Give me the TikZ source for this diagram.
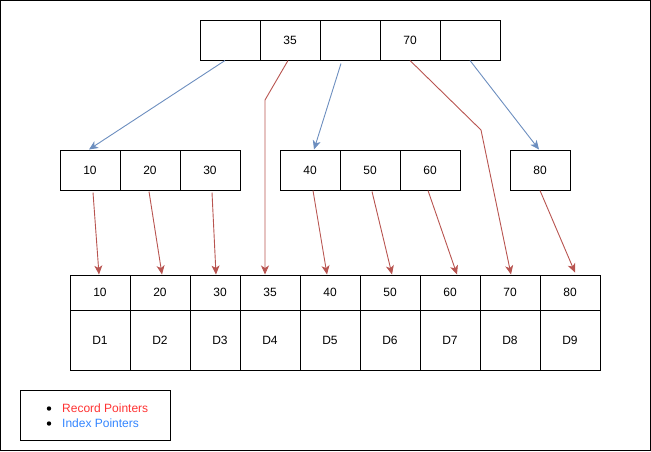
\documentclass[tikz,border=0pt]{standalone}
\usepackage{fontspec}
\setmainfont{Liberation Sans}
\usetikzlibrary{arrows.meta,calc}
\definecolor{recred}{HTML}{B85450}
\definecolor{idxblue}{HTML}{6C8EBF}
\definecolor{legred}{HTML}{FF3333}
\definecolor{legblue}{HTML}{3385FF}
\tikzset{
  cell/.style={draw=black,line width=1pt,fill=white,minimum width=60pt,minimum height=40pt,inner sep=0pt,font=\fontsize{12}{14}\selectfont},
  keycell/.style={cell,minimum height=35pt},
  datacell/.style={cell,minimum height=60pt},
  recptr/.style={draw=recred,line width=0.9pt,-{Stealth[length=9pt,width=8pt,inset=2.5pt]}},
  idxptr/.style={draw=idxblue,line width=0.9pt,-{Stealth[length=9pt,width=8pt,inset=2.5pt]}},
  legtext/.style={anchor=west,inner sep=0pt,font=\fontsize{12}{14}\selectfont}
}
\begin{document}
\begin{tikzpicture}[x=1pt,y=-1pt]
\useasboundingbox (0,0) rectangle (651,451);
\draw[line width=1.2pt] (0.6,0.6) rectangle (650.4,450.4);
% top node
\node[cell] (t1) at (230,40) {};
\node[cell] (t2) at (290,40) {35};
\node[cell] (t3) at (350,40) {};
\node[cell] (t4) at (410,40) {70};
\node[cell] (t5) at (470,40) {};
% middle nodes
\node[cell] (m10) at (90,170) {10};
\node[cell] (m20) at (150,170) {20};
\node[cell] (m30) at (210,170) {30};
\node[cell] (m40) at (310,170) {40};
\node[cell] (m50) at (370,170) {50};
\node[cell] (m60) at (430,170) {60};
\node[cell] (m80) at (540,170) {80};
% bottom keys
\node[keycell] (b10) at (100,292.5) {10};
\node[keycell] (b20) at (160,292.5) {20};
\node[keycell] (b30) at (220,292.5) {30};
\node[keycell] (b35) at (270,292.5) {35};
\node[keycell] (b40) at (330,292.5) {40};
\node[keycell] (b50) at (390,292.5) {50};
\node[keycell] (b60) at (450,292.5) {60};
\node[keycell] (b70) at (510,292.5) {70};
\node[keycell] (b80) at (570,292.5) {80};
% data
\node[datacell] (d1) at (100,340) {D1};
\node[datacell] (d2) at (160,340) {D2};
\node[datacell] (d3) at (220,340) {D3};
\node[datacell] (d4) at (270,340) {D4};
\node[datacell] (d5) at (330,340) {D5};
\node[datacell] (d6) at (390,340) {D6};
\node[datacell] (d7) at (450,340) {D7};
\node[datacell] (d8) at (510,340) {D8};
\node[datacell] (d9) at (570,340) {D9};
% bend points
\coordinate (k35) at (265,100);
\coordinate (k70) at (481,130);
% index pointers
\draw[idxptr] ($(t1.south)+(-5,0)$) -- ($(m10.north)+(-1,0)$);
\draw[idxptr] ($(t3.south)+(-9,3)$) -- ($(m40.north)+(4,0)$);
\draw[idxptr] (t5.south) -- ($(m80.north)+(-1,0)$);
% record pointers from top
\draw[recptr] ($(t2.south)+(-2,0)$) -- (k35) -- ($(b35.north)+(-5,0)$);
\draw[recptr] (t4.south) -- (k70) -- ($(b70.north)+(1,0)$);
% record pointers from middle
\draw[recptr] ($(m10.south)+(3,2)$) -- ($(b10.north)+(-1,0)$);
\draw[recptr] ($(m20.south)+(-1,1)$) -- ($(b20.north)+(2,0)$);
\draw[recptr] ($(m30.south)+(2,2)$) -- ($(b30.north)+(-4,0)$);
\draw[recptr] ($(m40.south)+(3,0)$) -- ($(b40.north)+(-3,0)$);
\draw[recptr] ($(m50.south)+(2,1)$) -- ($(b50.north)+(2,0)$);
\draw[recptr] ($(m60.south)+(-2,0)$) -- ($(b60.north)+(7,0)$);
\draw[recptr] (m80.south) -- ($(b80.north)+(5,-2)$);
% legend
\node[draw=black,line width=1pt,minimum width=150pt,minimum height=50pt,inner sep=0pt] (legend) at (95,415) {};
\fill[black] (49,408.5) circle (2.2pt);
\fill[black] (49,423.5) circle (2.2pt);
\node[legtext,text=legred] (lrec) at (62,408.5) {Record Pointers};
\node[legtext,text=legblue] (lidx) at (62,423.5) {Index Pointers};
\end{tikzpicture}
\end{document}
